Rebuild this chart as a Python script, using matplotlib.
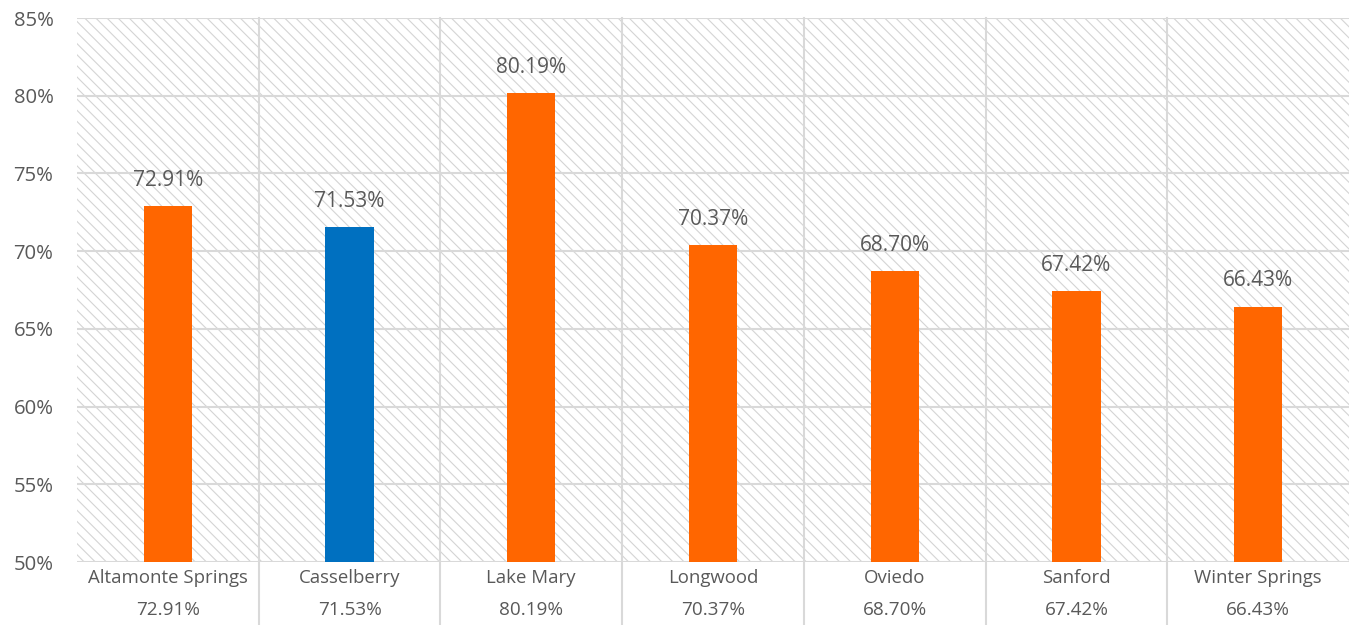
import matplotlib
matplotlib.use("Agg")
import matplotlib.pyplot as plt
from matplotlib.patches import Rectangle
from matplotlib.lines import Line2D
import matplotlib.transforms as mtransforms

categories = ["Altamonte Springs", "Casselberry", "Lake Mary", "Longwood", "Oviedo", "Sanford", "Winter Springs"]
values = [72.91, 71.53, 80.19, 70.37, 68.70, 67.42, 66.43]
colors = ["#FF6600", "#0070C0", "#FF6600", "#FF6600", "#FF6600", "#FF6600", "#FF6600"]
yticks = [50, 55, 60, 65, 70, 75, 80, 85]

plt.rcParams['font.family'] = ['Open Sans', 'DejaVu Sans']
plt.rcParams['hatch.linewidth'] = 0.8
TXT = "#595959"
GRID = "#D9D9D9"

fig = plt.figure(figsize=(13.59, 6.25), dpi=100)
ax = fig.add_axes([77/1359, 1 - 562/625, (1349-77)/1359, (562-18)/625])

n = len(categories)
x = list(range(n))
ax.set_xlim(-0.5, n - 0.5)
ax.set_ylim(50, 85)

# hatched background
bg = Rectangle((0, 0), 1, 1, transform=ax.transAxes, facecolor="white",
               edgecolor="#D4D4D4", hatch="\\\\\\", linewidth=0, zorder=0)
ax.add_patch(bg)

for yv in yticks:
    ax.axhline(yv, color=GRID, lw=1.5, zorder=1)

trans = mtransforms.blended_transform_factory(ax.transData, ax.transAxes)
for i in range(1, n):
    ax.add_line(Line2D([i - 0.5, i - 0.5], [-0.12, 1], transform=trans, color=GRID,
                       lw=1.5, clip_on=False, zorder=1))

ax.bar(x, [v - 50 for v in values], bottom=50, width=0.265, color=colors, zorder=3)

for xi, v in zip(x, values):
    ax.annotate(f"{v:.2f}%", (xi, v), xytext=(0, 18.5), textcoords="offset points",
                ha="center", va="center", fontsize=15, color=TXT)
    ax.text(xi, -0.03, categories[xi], transform=trans, ha="center", va="center",
            fontsize=13.4, color=TXT)
    ax.text(xi, -0.088, f"{v:.2f}%", transform=trans, ha="center", va="center",
            fontsize=13.6, color=TXT)

ax.set_yticks(yticks)
ax.set_yticklabels([f"{t}%" for t in yticks], fontsize=14.6, color=TXT)
ax.set_xticks([])
ax.tick_params(axis="y", length=0, pad=17)
for s in ax.spines.values():
    s.set_visible(False)

fig.savefig("out.png", dpi=100)
